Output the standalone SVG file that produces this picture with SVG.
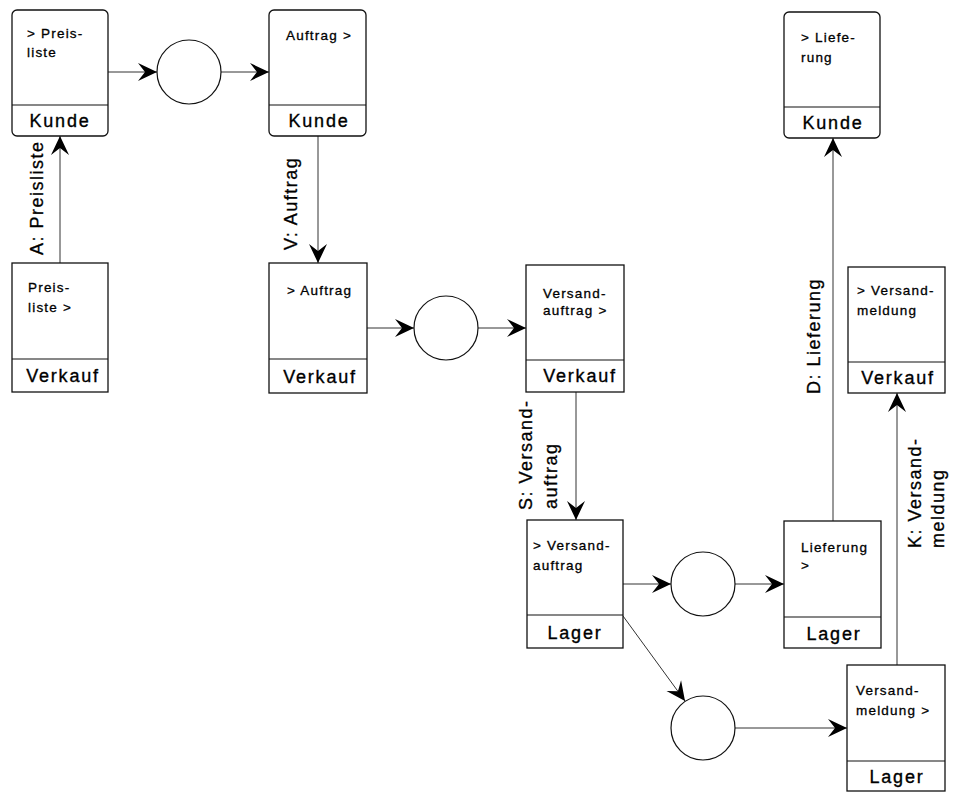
<svg xmlns="http://www.w3.org/2000/svg" width="955" height="793" viewBox="0 0 955 793">
<defs>
<style>
.box{fill:#fff;stroke:#111;stroke-width:1.3}
.div{stroke:#111;stroke-width:1.1;fill:none}
.circ{fill:#fff;stroke:#111;stroke-width:1.2}
.body{font-family:"Liberation Sans",Arial,sans-serif;font-size:13.5px;letter-spacing:1.2px;fill:#000;stroke:#000;stroke-width:0.3px}
.foot{font-family:"Liberation Sans",Arial,sans-serif;font-size:18px;letter-spacing:1.8px;fill:#000;stroke:#000;stroke-width:0.35px;text-anchor:middle}
.lbl{font-family:"Liberation Sans",Arial,sans-serif;font-size:18px;letter-spacing:1.5px;fill:#000;stroke:#000;stroke-width:0.3px}
.con{stroke:#333;stroke-width:1;fill:none;marker-end:url(#arr)}
</style>
<marker id="arr" viewBox="-20 -10 21 20" refX="0" refY="0" markerWidth="21" markerHeight="20" markerUnits="userSpaceOnUse" orient="auto">
<path d="M0,0 L-19,-9 L-12,0 L-19,9 Z" fill="#000"/>
</marker>
</defs>
<rect width="955" height="793" fill="#fff"/>

<g id="connectors">
<line class="con" x1="108" y1="72" x2="157" y2="72"/>
<line class="con" x1="221" y1="72" x2="269" y2="72"/>
<line class="con" x1="60" y1="263" x2="60" y2="136"/>
<line class="con" x1="318" y1="136" x2="318" y2="263"/>
<line class="con" x1="367" y1="328" x2="414" y2="328"/>
<line class="con" x1="478" y1="328" x2="526" y2="328"/>
<line class="con" x1="576" y1="392" x2="576" y2="520"/>
<line class="con" x1="623" y1="584" x2="671" y2="584"/>
<line class="con" x1="735" y1="584" x2="784" y2="584"/>
<line class="con" x1="833" y1="521" x2="833" y2="138"/>
<line class="con" x1="623" y1="616" x2="685" y2="701"/>
<line class="con" x1="735" y1="728" x2="847" y2="728"/>
<line class="con" x1="897" y1="665" x2="897" y2="393"/>
<text class="lbl" transform="translate(43,255) rotate(-90)">A: Preisliste</text>
<text class="lbl" transform="translate(297,250) rotate(-90)">V: Auftrag</text>
<text class="lbl" transform="translate(532,510) rotate(-90)">S: Versand-</text>
<text class="lbl" transform="translate(557,509) rotate(-90)">auftrag</text>
<text class="lbl" transform="translate(820,394) rotate(-90)">D: Lieferung</text>
<text class="lbl" transform="translate(921,548) rotate(-90)">K: Versand-</text>
<text class="lbl" transform="translate(944,548) rotate(-90)">meldung</text>
</g>

<g id="circle1"><circle class="circ" cx="189" cy="72" r="32"/></g>
<g id="circle2"><circle class="circ" cx="446" cy="328" r="32"/></g>
<g id="circle3"><circle class="circ" cx="703" cy="584" r="32"/></g>
<g id="circle4"><circle class="circ" cx="703" cy="728" r="32"/></g>

<g id="kunde-preisliste">
<rect class="box" x="12" y="10" width="96" height="126" rx="5"/>
<line class="div" x1="12" y1="105" x2="108" y2="105"/>
<text class="body" x="27" y="38">&gt; Preis-</text>
<text class="body" x="27" y="57">liste</text>
<text class="foot" x="60" y="127">Kunde</text>
</g>

<g id="kunde-auftrag">
<rect class="box" x="269" y="10" width="97" height="126" rx="5"/>
<line class="div" x1="269" y1="105" x2="366" y2="105"/>
<text class="body" x="286" y="40">Auftrag &gt;</text>
<text class="foot" x="319" y="127">Kunde</text>
</g>

<g id="verkauf-preisliste">
<rect class="box" x="12" y="263" width="96" height="129"/>
<line class="div" x1="12" y1="359" x2="108" y2="359"/>
<text class="body" x="28" y="292">Preis-</text>
<text class="body" x="28" y="312">liste &gt;</text>
<text class="foot" x="63" y="382">Verkauf</text>
</g>

<g id="verkauf-auftrag">
<rect class="box" x="269" y="263" width="98" height="130"/>
<line class="div" x1="269" y1="359" x2="367" y2="359"/>
<text class="body" x="287" y="295">&gt; Auftrag</text>
<text class="foot" x="320" y="383">Verkauf</text>
</g>

<g id="verkauf-versandauftrag">
<rect class="box" x="526" y="265" width="98" height="127"/>
<line class="div" x1="526" y1="360" x2="624" y2="360"/>
<text class="body" x="543" y="298">Versand-</text>
<text class="body" x="543" y="315">auftrag &gt;</text>
<text class="foot" x="580" y="382">Verkauf</text>
</g>

<g id="lager-versandauftrag">
<rect class="box" x="527" y="520" width="96" height="128"/>
<line class="div" x1="527" y1="615" x2="623" y2="615"/>
<text class="body" x="533" y="550">&gt; Versand-</text>
<text class="body" x="533" y="570">auftrag</text>
<text class="foot" x="575" y="639">Lager</text>
</g>

<g id="lager-lieferung">
<rect class="box" x="784" y="521" width="97" height="127"/>
<line class="div" x1="784" y1="617" x2="881" y2="617"/>
<text class="body" x="801" y="552">Lieferung</text>
<text class="body" x="801" y="570">&gt;</text>
<text class="foot" x="834" y="640">Lager</text>
</g>

<g id="kunde-lieferung">
<rect class="box" x="784" y="12" width="96" height="126" rx="5"/>
<line class="div" x1="784" y1="107" x2="880" y2="107"/>
<text class="body" x="801" y="42">&gt; Liefe-</text>
<text class="body" x="801" y="62">rung</text>
<text class="foot" x="833" y="129">Kunde</text>
</g>

<g id="verkauf-versandmeldung">
<rect class="box" x="848" y="267" width="97" height="126"/>
<line class="div" x1="848" y1="362" x2="945" y2="362"/>
<text class="body" x="857" y="295">&gt; Versand-</text>
<text class="body" x="857" y="315">meldung</text>
<text class="foot" x="898" y="384">Verkauf</text>
</g>

<g id="lager-versandmeldung">
<rect class="box" x="847" y="665" width="98" height="126"/>
<line class="div" x1="847" y1="761" x2="945" y2="761"/>
<text class="body" x="856" y="695">Versand-</text>
<text class="body" x="856" y="715">meldung &gt;</text>
<text class="foot" x="897" y="783">Lager</text>
</g>
</svg>
